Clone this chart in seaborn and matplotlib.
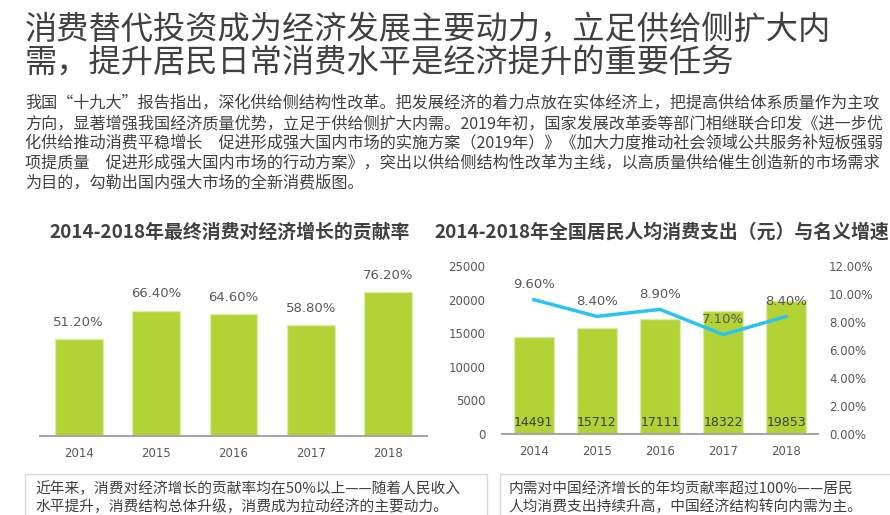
import matplotlib
matplotlib.use("Agg")
import matplotlib.pyplot as plt
import seaborn as sns
import pandas as pd
from matplotlib.patches import Rectangle

years = ["2014", "2015", "2016", "2017", "2018"]
contrib = [51.2, 66.4, 64.6, 58.8, 76.2]
spend = [14491, 15712, 17111, 18322, 19853]
growth = [9.6, 8.4, 8.9, 7.1, 8.4]

title_lines = ["消费替代投资成为经济发展主要动力，立足供给侧扩大内",
               "需，提升居民日常消费水平是经济提升的重要任务"]
para_lines = [
    "我国“十九大”报告指出，深化供给侧结构性改革。把发展经济的着力点放在实体经济上，把提高供给体系质量作为主攻",
    "方向，显著增强我国经济质量优势，立足于供给侧扩大内需。2019年初，国家发展改革委等部门相继联合印发《进一步优",
    "化供给推动消费平稳增长　促进形成强大国内市场的实施方案（2019年）》《加大力度推动社会领域公共服务补短板强弱",
    "项提质量　促进形成强大国内市场的行动方案》，突出以供给侧结构性改革为主线，以高质量供给催生创造新的市场需求",
    "为目的，勾勒出国内强大市场的全新消费版图。",
]
left_title = "2014-2018年最终消费对经济增长的贡献率"
right_title = "2014-2018年全国居民人均消费支出（元）与名义增速"
note_left = ["近年来，消费对经济增长的贡献率均在50%以上——随着人民收入",
             "水平提升，消费结构总体升级，消费成为拉动经济的主要动力。"]
note_right = ["内需对中国经济增长的年均贡献率超过100%——居民",
              "人均消费支出持续升高，中国经济结构转向内需为主。"]

sns.set_theme(style="white")
plt.rcParams["font.family"] = ["Noto Sans CJK SC", "DejaVu Sans"]
plt.rcParams["axes.unicode_minus"] = False

W, H = 890, 515
fig = plt.figure(figsize=(W / 100, H / 100), dpi=100)
fig.patch.set_facecolor("white")

def fy(y):
    return 1 - y / H

dark = "#404040"
gray = "#595959"
green = "#b2d235"
blue = "#2cc3f2"

# headline
for i, line in enumerate(title_lines):
    fig.text(25 / W, fy(30 + i * 33), line, fontsize=23.2, color=dark, va="center", ha="left")

for i, line in enumerate(para_lines):
    fig.text(25 / W, fy(104 + i * 19.6), line, fontsize=11.6, color=dark, va="center", ha="left")

fig.text(230 / W, fy(232), left_title, fontsize=13.6, fontweight="bold", color=dark, ha="center", va="center")
fig.text(434 / W, fy(232), right_title, fontsize=13.6, fontweight="bold", color=dark, ha="left", va="center")

# left chart
df1 = pd.DataFrame({"year": years, "contrib": contrib})
ax1 = fig.add_axes([40 / W, fy(436), 387 / W, 170 / H])
sns.barplot(data=df1, x="year", y="contrib", color=green, saturation=1, width=0.62,
            edgecolor="#dcecaa", linewidth=1, ax=ax1)
ax1.set_ylim(0, 90)
ax1.set_xlim(-0.5, 4.5)
for i, v in enumerate(contrib):
    ax1.annotate(f"{v:.2f}%", (i, v), xytext=(0, 12), textcoords="offset points",
                 ha="center", va="center", fontsize=9.5, color=gray, family="DejaVu Sans")
ax1.set_yticks([])
ax1.set_xlabel("")
ax1.set_ylabel("")
for s in ["top", "left", "right"]:
    ax1.spines[s].set_visible(False)
ax1.spines["bottom"].set_color("#a6a6a6")
ax1.spines["bottom"].set_linewidth(1.5)
ax1.tick_params(axis="x", length=0, pad=8, labelsize=8.5, labelcolor=gray)
for t in ax1.get_xticklabels():
    t.set_family("DejaVu Sans")

# right chart
df2 = pd.DataFrame({"year": years, "spend": spend, "growth": growth})
ax2 = fig.add_axes([502 / W, fy(434), 316 / W, 168 / H])
sns.barplot(data=df2, x="year", y="spend", color=green, saturation=1, width=0.63,
            edgecolor="#dcecaa", linewidth=1, ax=ax2)
ax2.set_ylim(0, 25000)
ax2.set_xlim(-0.5, 4.5)
ax2.set_yticks(range(0, 25001, 5000))
for i, v in enumerate(spend):
    ax2.text(i, 1700, str(v), ha="center", va="center", fontsize=9, color=dark, family="DejaVu Sans")
ax2.set_xlabel("")
ax2.set_ylabel("")
for s in ["top", "left", "right"]:
    ax2.spines[s].set_visible(False)
ax2.spines["bottom"].set_color("#a6a6a6")
ax2.spines["bottom"].set_linewidth(1.5)
ax2.tick_params(axis="x", length=0, pad=8, labelsize=8.5, labelcolor=gray)
ax2.tick_params(axis="y", length=0, pad=12, labelsize=8.5, labelcolor=gray)
for t in ax2.get_xticklabels() + ax2.get_yticklabels():
    t.set_family("DejaVu Sans")

ax3 = ax2.twinx()
sns.lineplot(data=df2, x="year", y="growth", color=blue, linewidth=2.5, ax=ax3)
ax3.set_ylim(0, 12)
ax3.set_yticks(range(0, 13, 2))
ax3.set_yticklabels([f"{v:.2f}%" for v in range(0, 13, 2)])
for i, v in enumerate(growth):
    ax3.annotate(f"{v:.2f}%", (i, v), xytext=(0, 11), textcoords="offset points",
                 ha="center", va="center", fontsize=9.5, color=gray, family="DejaVu Sans")
ax3.set_ylabel("")
for s in ["top", "left", "right", "bottom"]:
    ax3.spines[s].set_visible(False)
ax3.tick_params(axis="y", length=0, pad=8, labelsize=8.5, labelcolor=gray)
for t in ax3.get_yticklabels():
    t.set_family("DejaVu Sans")

# note boxes
fig.patches.append(Rectangle((25 / W, fy(520)), 462 / W, 46 / H, transform=fig.transFigure,
                             facecolor="white", edgecolor="#d9d9d9", linewidth=1))
fig.patches.append(Rectangle((500 / W, fy(520)), 400 / W, 46 / H, transform=fig.transFigure,
                             facecolor="white", edgecolor="#d9d9d9", linewidth=1))
for i, line in enumerate(note_left):
    fig.text(35 / W, fy(489 + i * 17.5), line, fontsize=10.6, color=dark, va="center", ha="left")
for i, line in enumerate(note_right):
    fig.text(508 / W, fy(489 + i * 17.5), line, fontsize=10.6, color=dark, va="center", ha="left")

fig.savefig("out.png", dpi=100, facecolor="white")
